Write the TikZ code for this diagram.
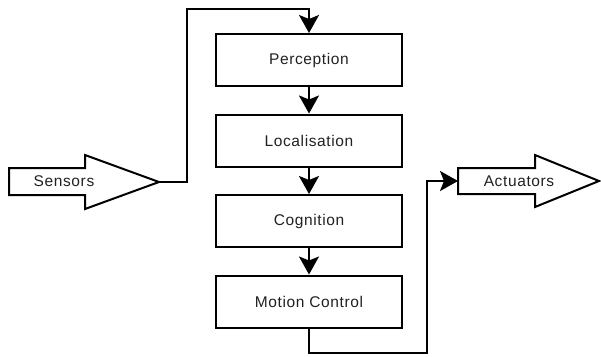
\documentclass[tikz,border=0pt]{standalone}
\usepackage{fontspec}
\setmainfont{Liberation Sans}[LetterSpace=4]
\usetikzlibrary{arrows.meta}
\begin{document}
\begin{tikzpicture}[x=1pt,y=-1pt,
  line width=2pt, line join=miter,
  stage/.style={draw, minimum width=186pt, minimum height=52pt, inner sep=0pt,
    font=\fontsize{15.5}{18}\selectfont, text=black!87},
  label/.style={inner sep=0pt, font=\fontsize{15.5}{18}\selectfont, text=black!87},
  flow/.style={-{Stealth[length=18pt,width=20pt,inset=4pt]}}]
\useasboundingbox (0,0) rectangle (601,356);

% processing stages
\node[stage] (perception)   at (309,60)    {Perception};
\node[stage] (localisation) at (309,140.5) {Localisation};
\node[stage] (cognition)    at (309,221)   {Cognition};
\node[stage] (motion)       at (309,301.5) {Motion Control};

% input block arrow
\draw (9,168) -- (85,168) -- (85,155) -- (159,182) -- (85,209) -- (85,195) -- (9,195) -- cycle;
\coordinate (sensors) at (159,182);
\node[label] (sensorstext) at (64,181.5) {Sensors};

% output block arrow
\draw (458,168) -- (535,168) -- (535,155) -- (599,181) -- (535,207) -- (535,194) -- (458,194) -- cycle;
\coordinate (actuators) at (458,181);
\node[label] (actuatorstext) at (519,181) {Actuators};

% routing corners
\coordinate (c1) at (187,182);
\coordinate (c2) at (187,9);
\coordinate (c3) at (309,9);
\coordinate (c4) at (309,353);
\coordinate (c5) at (427,353);
\coordinate (c6) at (427,181);

% connectors
\draw[flow] (sensors) -- (c1) -- (c2) -- (c3) -- (perception.north);
\draw[flow] (perception) -- (localisation);
\draw[flow] (localisation) -- (cognition);
\draw[flow] (cognition) -- (motion);
\draw[flow] (motion.south) -- (c4) -- (c5) -- (c6) -- (actuators);
\end{tikzpicture}
\end{document}
